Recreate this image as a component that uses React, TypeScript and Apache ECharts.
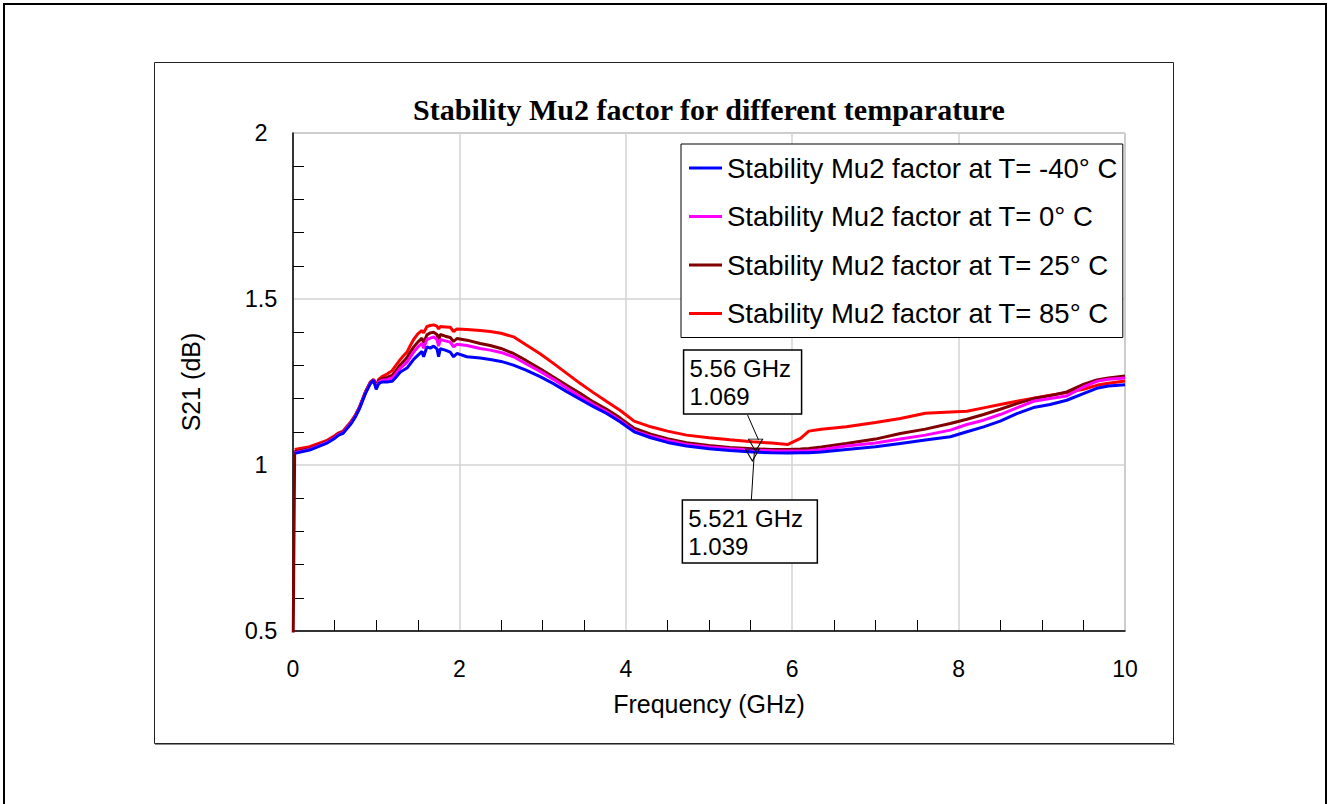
import React, { useEffect, useRef } from "react";
import * as echarts from "echarts";

// Frequency grid (GHz)
const freq = [
  0.02, 0.2, 0.4, 0.5, 0.55, 0.6, 0.7, 0.75, 0.8, 0.87, 0.93, 0.97, 1.0, 1.03, 1.07, 1.13, 1.19, 1.23,
  1.29, 1.33, 1.37, 1.41, 1.45, 1.5, 1.55, 1.57, 1.61, 1.65, 1.69, 1.73, 1.75, 1.77, 1.83, 1.89, 1.93,
  1.97, 2.09, 2.25, 2.37, 2.5, 2.65, 2.8, 2.97, 3.13, 3.29, 3.45, 3.61, 3.77, 3.93, 4.1, 4.3, 4.5, 4.73,
  5.0, 5.25, 5.52, 5.75, 5.95, 6.1, 6.2, 6.35, 6.65, 7.0, 7.3, 7.6, 7.9, 8.1, 8.3, 8.5, 8.7, 8.9, 9.1,
  9.3, 9.5, 9.66, 9.8, 10.0,
];

const muM40 = [
  1.035, 1.045, 1.065, 1.08, 1.09, 1.095, 1.125, 1.145, 1.17, 1.215, 1.245, 1.255, 1.228, 1.245, 1.25, 1.25, 1.252, 1.262,
  1.28, 1.286, 1.292, 1.305, 1.318, 1.33, 1.342, 1.326, 1.356, 1.352, 1.358, 1.35, 1.326, 1.35, 1.346, 1.34, 1.326,
  1.336, 1.326, 1.322, 1.318, 1.312, 1.301, 1.286, 1.266, 1.245, 1.221, 1.198, 1.176, 1.155, 1.13, 1.1, 1.082, 1.068, 1.057,
  1.049, 1.044, 1.039, 1.037, 1.036, 1.037, 1.037, 1.039, 1.047, 1.055, 1.065, 1.075, 1.085, 1.1, 1.115, 1.132, 1.155, 1.173, 1.182,
  1.195, 1.215, 1.231, 1.238, 1.242,
];

const mu0 = [
  1.037, 1.047, 1.067, 1.082, 1.092, 1.097, 1.127, 1.147, 1.172, 1.217, 1.247, 1.256, 1.232, 1.25, 1.255, 1.257, 1.262, 1.272,
  1.292, 1.3, 1.31, 1.325, 1.34, 1.355, 1.366, 1.352, 1.378, 1.382, 1.386, 1.378, 1.358, 1.378, 1.374, 1.37, 1.356,
  1.364, 1.36, 1.351, 1.346, 1.339, 1.326, 1.305, 1.282, 1.258, 1.232, 1.206, 1.182, 1.16, 1.134, 1.103, 1.087, 1.074, 1.062,
  1.054, 1.049, 1.045, 1.043, 1.042, 1.042, 1.043, 1.046, 1.057, 1.066, 1.078, 1.09, 1.105, 1.122, 1.135, 1.152, 1.172, 1.192, 1.2,
  1.208, 1.235, 1.252, 1.258, 1.262,
];

const mu25 = [
  1.04, 1.049, 1.069, 1.084, 1.094, 1.099, 1.129, 1.149, 1.174, 1.219, 1.249, 1.257, 1.235, 1.254, 1.26, 1.264, 1.27, 1.282,
  1.302, 1.312, 1.324, 1.34, 1.355, 1.37, 1.382, 1.368, 1.392, 1.398, 1.4, 1.393, 1.375, 1.393, 1.388, 1.384, 1.372,
  1.381, 1.376, 1.366, 1.36, 1.351, 1.336, 1.315, 1.29, 1.265, 1.24, 1.216, 1.19, 1.168, 1.142, 1.111, 1.093, 1.079, 1.067,
  1.059, 1.053, 1.049, 1.047, 1.047, 1.048, 1.05, 1.054, 1.065, 1.078, 1.095, 1.108, 1.125, 1.138, 1.152, 1.168, 1.185, 1.2, 1.209,
  1.22, 1.243, 1.256, 1.262, 1.268,
];
// the 25 °C trace starts from below the axis minimum at 0 GHz
const mu25Start = [0, 0.4];

const mu85 = [
  1.047, 1.055, 1.073, 1.088, 1.097, 1.102, 1.132, 1.15, 1.175, 1.22, 1.25, 1.258, 1.238, 1.258, 1.266, 1.274, 1.284, 1.298,
  1.318, 1.33, 1.34, 1.36, 1.378, 1.395, 1.405, 1.398, 1.417, 1.42, 1.422, 1.418, 1.41, 1.417, 1.416, 1.415, 1.402,
  1.41, 1.408, 1.405, 1.402, 1.397, 1.386, 1.362, 1.335, 1.306, 1.276, 1.246, 1.218, 1.191, 1.165, 1.132, 1.115, 1.102, 1.09,
  1.082, 1.076, 1.07, 1.066, 1.062, 1.08, 1.102, 1.108, 1.115, 1.128, 1.14, 1.156, 1.16, 1.162, 1.172, 1.182, 1.192, 1.201, 1.21,
  1.218, 1.228, 1.24, 1.246, 1.253,
];

const seriesNames = [
  "Stability Mu2 factor at T= -40° C",
  "Stability Mu2 factor at T= 0° C",
  "Stability Mu2 factor at T= 25° C",
  "Stability Mu2 factor at T= 85° C",
];
const seriesColors = ["#0000ff", "#ff00ff", "#800000", "#ff0000"];

// marker annotations: [frequency GHz, value], series index
const marker85 = { series: 3, f: 5.56, v: 1.069, label: "5.56 GHz\n1.069" };
const markerM40 = { series: 0, f: 5.521, v: 1.039, label: "5.521 GHz\n1.039" };

const titleText = "Stability Mu2 factor for different temparature";
const SANS = '"Liberation Sans", Arial, sans-serif';
const SERIF = '"Liberation Serif", "Times New Roman", serif';

export default function App() {
  const ref = useRef<HTMLDivElement>(null);

  useEffect(() => {
    if (!ref.current) return;
    const chart = echarts.init(ref.current, null, { renderer: "svg" });
    const allValues = [muM40, mu0, mu25, mu85];
    const zs = [6, 5, 4, 3];

    const series = allValues.map((vals, i) => {
      const data: number[][] = freq.map((f, k) => [f, vals[k]]);
      if (i === 2) data.unshift(mu25Start);
      const s: any = {
        name: seriesNames[i],
        type: "line",
        data,
        showSymbol: false,
        symbol: "none",
        z: zs[i],
        lineStyle: { color: seriesColors[i], width: 3 },
        itemStyle: { color: seriesColors[i] },
        clip: true,
      };
      const mks = [marker85, markerM40].filter((m) => m.series === i);
      if (mks.length) {
        s.markPoint = {
          symbol: "triangle",
          symbolRotate: 180,
          symbolSize: [14, 12],
          symbolOffset: [0, 3],
          itemStyle: { color: "rgba(0,0,0,0)", borderColor: "#000", borderWidth: 1 },
          label: { show: false },
          data: mks.map((m) => ({ coord: [m.f, m.v] })),
          z: 20,
        };
      }
      return s;
    });

    const option: any = {
      animation: false,
      backgroundColor: "#fff",
      grid: { left: 293, top: 133, width: 832, height: 498, show: true, borderColor: "#777", borderWidth: 1 },
      legend: {
        orient: "vertical",
        left: 681,
        top: 144,
        padding: [10, 5, 10, 8],
        itemGap: 20.5,
        itemWidth: 33,
        itemHeight: 3,
        icon: "rect",
        backgroundColor: "#fff",
        borderColor: "#000",
        borderWidth: 1,
        z: 30,
        data: seriesNames,
        textStyle: { fontSize: 27.5, color: "#000", fontFamily: SANS },
      },
      xAxis: {
        type: "value",
        min: 0,
        max: 10,
        interval: 2,
        name: "Frequency (GHz)",
        nameLocation: "middle",
        nameGap: 60,
        nameTextStyle: { fontSize: 25, color: "#000", fontFamily: SANS },
        axisLine: { show: true, onZero: false, lineStyle: { color: "#000", width: 1.5 } },
        axisTick: { show: false, inside: true },
        minorTick: { show: true, splitNumber: 4, length: 11, lineStyle: { color: "#000", width: 1 } },
        splitLine: { show: true, lineStyle: { color: "#d3d3d3", width: 1.5 } },
        minorSplitLine: { show: false },
        axisLabel: { fontSize: 23, color: "#000", fontFamily: SANS, margin: 26 },
      },
      yAxis: {
        type: "value",
        min: 0.5,
        max: 2,
        interval: 0.5,
        name: "S21 (dB)",
        nameLocation: "middle",
        nameGap: 90,
        nameTextStyle: { fontSize: 25, color: "#000", fontFamily: SANS },
        axisLine: { show: true, onZero: false, lineStyle: { color: "#000", width: 1.5 } },
        axisTick: { show: false, inside: true },
        minorTick: { show: true, splitNumber: 5, length: 11, lineStyle: { color: "#000", width: 1 } },
        splitLine: { show: true, lineStyle: { color: "#d3d3d3", width: 1.5 } },
        axisLabel: {
          fontSize: 23.5,
          color: "#000",
          fontFamily: SANS,
          margin: 32,
          align: "center",
          padding: [5, 0, 0, 0],
        },
      },
      series,
    };
    chart.setOption(option);

    const p1 = chart.convertToPixel({ gridIndex: 0 }, [marker85.f, marker85.v]) as number[];
    const p2 = chart.convertToPixel({ gridIndex: 0 }, [markerM40.f, markerM40.v]) as number[];

    const box = (left: number, top: number, w: number, h: number, text: string) => ({
      type: "group",
      z: 40,
      children: [
        {
          type: "rect",
          shape: { x: left, y: top, width: w, height: h },
          style: { fill: "#fff", stroke: "#000", lineWidth: 1.5 },
          z: 40,
        },
        {
          type: "text",
          x: left + 6,
          y: top + 4,
          z: 41,
          style: {
            text,
            fill: "#000",
            font: `24px ${SANS}`,
            lineHeight: 28,
            verticalAlign: "top",
            align: "left",
          },
        },
      ],
    });

    const graphic: any[] = [
      {
        type: "rect",
        silent: true,
        z: -10,
        shape: { x: 4, y: 4, width: 1322, height: 810 },
        style: { fill: "none", stroke: "#000", lineWidth: 2 },
      },
      {
        type: "rect",
        silent: true,
        z: -10,
        shape: { x: 154.5, y: 62.5, width: 1019, height: 681 },
        style: { fill: "none", stroke: "#222", lineWidth: 1 },
      },
      {
        type: "line",
        silent: true,
        z: -10,
        shape: { x1: 155, y1: 744.5, x2: 1175, y2: 744.5 },
        style: { stroke: "#888", lineWidth: 1 },
      },
      {
        type: "text",
        z: 50,
        x: 709,
        y: 109,
        style: {
          text: titleText,
          fill: "#000",
          font: `bold 30px ${SERIF}`,
          align: "center",
          verticalAlign: "middle",
        },
      },
      {
        type: "line",
        z: 39,
        shape: { x1: p1[0] - 8, y1: p1[1] - 27, x2: p1[0] + 3, y2: p1[1] - 2 },
        style: { stroke: "#000", lineWidth: 1 },
      },
      box(p1[0] - 72, p1[1] - 92, 118, 64, marker85.label),
      {
        type: "line",
        z: 39,
        shape: { x1: p2[0] - 1, y1: p2[1] + 48, x2: p2[0] + 2, y2: p2[1] },
        style: { stroke: "#000", lineWidth: 1 },
      },
      box(p2[0] - 70, p2[1] + 48, 135, 63, markerM40.label),
    ];
    chart.setOption({ graphic });

    return () => chart.dispose();
  }, []);

  return (
    <div
      ref={ref}
      style={{ position: "absolute", left: 0, top: 0, width: 1330, height: 804, background: "#fff" }}
    />
  );
}
